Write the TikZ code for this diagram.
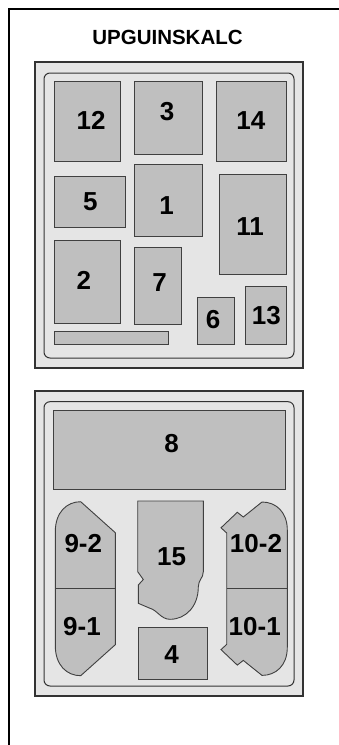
\documentclass[tikz,border=0pt]{standalone}
\usepackage{fontspec}
\setmainfont{Liberation Sans}
\tikzset{
  frameline/.style={line width=2pt, black},
  panel/.style={draw=black!80, line width=1.2pt, fill=black!10},
  innerpanel/.style={draw=black!80, line width=1pt, fill=black!10, rounded corners=6pt},
  fuse/.style={draw=black!75, line width=0.9pt, fill=black!25},
  lbl/.style={inner sep=0pt, font=\bfseries\fontsize{26}{26}\selectfont},
  ttl/.style={inner sep=0pt, font=\bfseries\fontsize{20.5}{20.5}\selectfont}
}
\begin{document}
\begin{tikzpicture}[x=1pt,y=-1pt]
\useasboundingbox (0,0) rectangle (339,745);
% outer frame (top and left only)
\coordinate (fr0) at (339,9);
\coordinate (fr1) at (9,9);
\coordinate (fr2) at (9,745);
\draw[frameline] (fr0) -- (fr1) -- (fr2);
\node[ttl] (title) at (167.5,37.2) {UPGUINSKALC};

% ===== top panel =====
\draw[panel] (35,62) rectangle (303,368);
\draw[innerpanel] (44,73) rectangle (294,358);
\draw[fuse] (54.3,81.7) rectangle (120,161.7);
\draw[fuse] (134.3,81.7) rectangle (202.7,154.3);
\draw[fuse] (216.7,81.7) rectangle (286.7,161.7);
\draw[fuse] (54.3,176) rectangle (125.7,227);
\draw[fuse] (134.3,164.3) rectangle (202.7,236.7);
\draw[fuse] (219,174.3) rectangle (286.7,274.3);
\draw[fuse] (54.3,240) rectangle (120,323.3);
\draw[fuse] (134.3,247.7) rectangle (181.3,324.7);
\draw[fuse] (197,297.3) rectangle (234,344.7);
\draw[fuse] (245.3,286.3) rectangle (286.7,344.7);
\draw[fuse] (54.3,331.3) rectangle (168.7,344.3);

\node[lbl] (l12) at (91.2,120.5) {12};
\node[lbl] (l3)  at (167,111.7) {3};
\node[lbl] (l14) at (250.8,121) {14};
\node[lbl] (l5)  at (90.3,202) {5};
\node[lbl] (l1)  at (166.7,205.8) {1};
\node[lbl] (l11) at (250,226.2) {11};
\node[lbl] (l2)  at (83.8,280) {2};
\node[lbl] (l7)  at (159.5,283) {7};
\node[lbl] (l6)  at (213,319.5) {6};
\node[lbl] (l13) at (266.3,315.8) {13};

% ===== bottom panel =====
\draw[panel] (35,391) rectangle (303,696);
\draw[innerpanel] (44,401.7) rectangle (294,686);
\draw[fuse] (53.3,410) rectangle (285,489.3);
% 9-2 / 9-1
\draw[fuse] (55.3,531.7) .. controls (55.3,512) and (67,501.7) .. (80.7,501.7)
  -- (115.3,532.7) -- (115.3,644.7) -- (80.7,675.7)
  .. controls (67,675.7) and (55.3,665.4) .. (55.3,645.7) -- cycle;
\draw[black!75, line width=0.9pt] (55.3,588.7) -- (115.3,588.7);
% 10-2 / 10-1
\draw[fuse] (287.3,530) .. controls (287.3,512) and (276,502) .. (262,502)
  -- (243.3,517) -- (237.3,512.3) -- (221,527.8) -- (226.7,533)
  -- (226.7,644.4) -- (221,649.6) -- (237.3,665.1) -- (243.3,660.4) -- (262,675.4)
  .. controls (276,675.4) and (287.3,665.4) .. (287.3,647.4) -- cycle;
\draw[black!75, line width=0.9pt] (226.7,588.7) -- (287.3,588.7);
% 15
\draw[fuse] (137.7,501) -- (203.3,501) -- (203.3,571.7)
  .. controls (203.3,578) and (198.3,580) .. (198.3,587)
  .. controls (198.3,606) and (186,619.3) .. (170,619.3)
  .. controls (161,619.3) and (157,610) .. (150,608.3)
  -- (138.3,603.3) -- (138.3,585) -- (143.3,579.5) -- (137.7,571.7) -- cycle;
% 4
\draw[fuse] (138.3,627.7) rectangle (207.3,679);

\node[lbl] (l8)   at (171.7,444) {8};
\node[lbl] (l92)  at (83.3,544) {9-2};
\node[lbl] (l102) at (256,544) {10-2};
\node[lbl] (l15)  at (171.7,556.7) {15};
\node[lbl] (l91)  at (82,626.7) {9-1};
\node[lbl] (l101) at (254.7,626.7) {10-1};
\node[lbl] (l4)   at (171.7,655) {4};
\end{tikzpicture}
\end{document}
